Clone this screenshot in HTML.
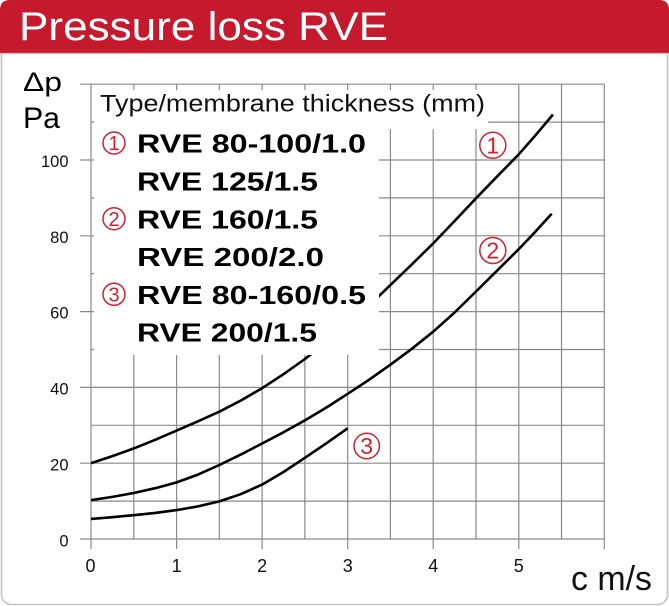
<!DOCTYPE html>
<html>
<head>
<meta charset="utf-8">
<style>
  html, body { margin: 0; padding: 0; background: #fff; }
  svg { display: block; }
  text { font-family: "Liberation Sans", "DejaVu Sans", sans-serif; }
</style>
</head>
<body>
<svg width="669" height="606" viewBox="0 0 669 606" xmlns="http://www.w3.org/2000/svg">
  <rect x="0" y="0" width="669" height="606" fill="#ffffff"/>
  <!-- outer frame -->
  <rect x="1.5" y="1" width="666" height="603.5" rx="10" ry="10" fill="none" stroke="#c4c4c4" stroke-width="1.6"/>
  <!-- header -->
  <path d="M0,53 L0,10 Q0,0 10,0 L659,0 Q669,0 669,10 L669,53 Z" fill="#c5192d"/>
  <line x1="0" y1="53.3" x2="669" y2="53.3" stroke="#e6a0a8" stroke-width="0.8"/>
  <text x="19" y="40" font-size="39.5" fill="#ffffff" textLength="369" lengthAdjust="spacingAndGlyphs">Pressure loss RVE</text>

  <!-- grid verticals -->
  <g stroke="#8a8a8a" stroke-width="1.2" fill="none">
    <line x1="91" y1="84.2" x2="91" y2="549"/>
    <line x1="133.8" y1="84.2" x2="133.8" y2="539"/>
    <line x1="176.6" y1="84.2" x2="176.6" y2="549"/>
    <line x1="219.3" y1="84.2" x2="219.3" y2="539"/>
    <line x1="262.1" y1="84.2" x2="262.1" y2="549"/>
    <line x1="304.9" y1="84.2" x2="304.9" y2="539"/>
    <line x1="347.7" y1="84.2" x2="347.7" y2="549"/>
    <line x1="390.4" y1="84.2" x2="390.4" y2="539"/>
    <line x1="433.2" y1="84.2" x2="433.2" y2="549"/>
    <line x1="476" y1="84.2" x2="476" y2="539"/>
    <line x1="518.8" y1="84.2" x2="518.8" y2="549"/>
    <line x1="561.5" y1="84.2" x2="561.5" y2="539"/>
    <line x1="604.3" y1="84.2" x2="604.3" y2="549"/>
  </g>
  <!-- grid horizontals -->
  <g stroke="#8a8a8a" stroke-width="1.2" fill="none">
    <line x1="80" y1="539" x2="604.3" y2="539"/>
    <line x1="91" y1="501.1" x2="604.3" y2="501.1"/>
    <line x1="80" y1="463.2" x2="604.3" y2="463.2"/>
    <line x1="91" y1="425.3" x2="604.3" y2="425.3"/>
    <line x1="80" y1="387.4" x2="604.3" y2="387.4"/>
    <line x1="91" y1="349.5" x2="604.3" y2="349.5"/>
    <line x1="80" y1="311.6" x2="604.3" y2="311.6"/>
    <line x1="91" y1="273.7" x2="604.3" y2="273.7"/>
    <line x1="80" y1="235.8" x2="604.3" y2="235.8"/>
    <line x1="91" y1="197.9" x2="604.3" y2="197.9"/>
    <line x1="80" y1="160" x2="604.3" y2="160"/>
    <line x1="91" y1="122.1" x2="604.3" y2="122.1"/>
    <line x1="80" y1="84.2" x2="604.3" y2="84.2"/>
  </g>

  <!-- curves -->
  <g stroke="#000" stroke-width="2.6" fill="none" stroke-linejoin="round" stroke-linecap="butt">
    <polyline points="91,463.2 112.4,456.1 133.8,448.4 155.2,439.8 176.6,430.6 198,421.3 219.3,411.7 240.7,400.6 262.1,388.2 283.5,374.2 304.9,359 326.3,342.5 347.7,324.9 369,305.6 390.4,285.1 411.8,264.4 433.2,243.4 454.6,221 476,198.3 497.4,176.2 518.8,154.3 535.9,134.8 553,114.5"/>
    <polyline points="91,500.1 112.4,496.9 133.8,493 155.2,488.2 176.6,482.4 198,474.6 219.3,465 240.7,454.6 262.1,443.5 283.5,432.3 304.9,420.4 326.3,407.6 347.7,393.8 369,379.8 390.4,364.7 411.8,348.8 433.2,331.7 454.6,312.5 476,291.5 497.4,270.3 518.8,249.1 535.3,231.8 551.7,213.8"/>
    <polyline points="91,518.9 112.4,517.2 133.8,515.2 155.2,512.9 176.6,510.1 198,506.4 219.3,501.4 240.7,494.2 262.1,484.6 283.5,472 304.9,457.8 326.3,443.3 347.7,428.3"/>
  </g>

  <!-- legend white boxes -->
  <rect x="94" y="90" width="394" height="39" fill="#ffffff"/>
  <rect x="94" y="90" width="285" height="265" fill="#ffffff"/>

  <!-- legend text -->
  <text x="100" y="111.7" font-size="24" fill="#111" textLength="385" lengthAdjust="spacingAndGlyphs">Type/membrane thickness (mm)</text>
  <g font-size="25.5" font-weight="bold" fill="#000">
    <text x="137" y="152.7" textLength="229" lengthAdjust="spacingAndGlyphs">RVE 80-100/1.0</text>
    <text x="137" y="190.5" textLength="181" lengthAdjust="spacingAndGlyphs">RVE 125/1.5</text>
    <text x="137" y="228.3" textLength="181" lengthAdjust="spacingAndGlyphs">RVE 160/1.5</text>
    <text x="137" y="266" textLength="187" lengthAdjust="spacingAndGlyphs">RVE 200/2.0</text>
    <text x="137" y="303.8" textLength="229" lengthAdjust="spacingAndGlyphs">RVE 80-160/0.5</text>
    <text x="137" y="341.6" textLength="180" lengthAdjust="spacingAndGlyphs">RVE 200/1.5</text>
  </g>
  <g fill="none" stroke="#d0202f" stroke-width="1.5">
    <circle cx="114" cy="143" r="11"/>
    <circle cx="114" cy="218.7" r="11"/>
    <circle cx="114" cy="294.3" r="11"/>
    <circle cx="492.8" cy="145.3" r="13"/>
    <circle cx="492.8" cy="250.5" r="13"/>
    <circle cx="366.7" cy="446" r="12.7"/>
  </g>
  <g fill="#d0202f" text-anchor="middle">
    <text x="114" y="150.2" font-size="20">1</text>
    <text x="114" y="225.9" font-size="20">2</text>
    <text x="114" y="301.5" font-size="20">3</text>
    <text x="492.8" y="153.5" font-size="23">1</text>
    <text x="492.8" y="258.7" font-size="23">2</text>
    <text x="366.7" y="454.2" font-size="23">3</text>
  </g>

  <!-- axis labels -->
  <text x="23" y="91" font-size="27" fill="#000" textLength="39" lengthAdjust="spacingAndGlyphs">Δp</text>
  <text x="23" y="128" font-size="30" fill="#000" textLength="37" lengthAdjust="spacingAndGlyphs">Pa</text>
  <g font-size="16.5" fill="#111" text-anchor="end">
    <text x="68.5" y="546.5">0</text>
    <text x="68.5" y="470.5">20</text>
    <text x="68.5" y="394.5">40</text>
    <text x="68.5" y="318.7">60</text>
    <text x="68.5" y="242.9">80</text>
    <text x="68.5" y="167.2">100</text>
  </g>
  <g font-size="18" fill="#111" text-anchor="middle">
    <text x="90.5" y="572">0</text>
    <text x="176.6" y="572">1</text>
    <text x="262.1" y="572">2</text>
    <text x="347.7" y="572">3</text>
    <text x="433.2" y="572">4</text>
    <text x="518.8" y="572">5</text>
  </g>
  <text x="571" y="590" font-size="34" fill="#111" textLength="81" lengthAdjust="spacingAndGlyphs">c m/s</text>
</svg>
</body>
</html>
